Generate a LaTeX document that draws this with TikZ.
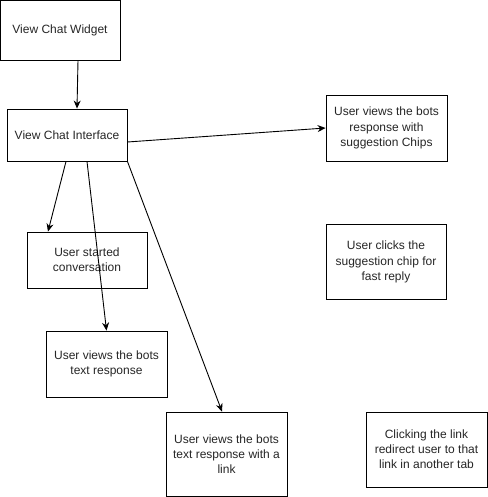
\documentclass[tikz,border=0pt]{standalone}
\usepackage{fontspec}
\setmainfont{Liberation Sans}
\usetikzlibrary{arrows.meta}
\begin{document}
\begin{tikzpicture}[x=1pt,y=-1pt,
  box/.style={draw=black, line width=0.9pt, fill=white, align=center,
    font=\fontsize{12}{15.2}\selectfont, text=black!85, inner sep=0pt},
  link/.style={draw=black, line width=0.9pt, -{Stealth[length=8pt,width=7pt]}}]
\useasboundingbox (0,0) rectangle (487,497);

\node[box, minimum width=120pt, minimum height=60pt] (widget) at (60,30) {View Chat Widget};
\node[box, minimum width=120pt, minimum height=52pt] (iface) at (67,135) {View Chat Interface};
\node[box, minimum width=121pt, minimum height=66pt] (chips) at (386.5,128)
  {User views the bots\\response with\\suggestion Chips};
\node[box, minimum width=120pt, minimum height=75pt] (clicks) at (386,262)
  {User clicks the\\suggestion chip for\\fast reply};
\node[box, minimum width=120pt, minimum height=56pt] (started) at (87,260)
  {User started\\conversation};
\node[box, minimum width=121pt, minimum height=66pt] (textresp) at (106.5,364)
  {User views the bots\\text response};
\node[box, minimum width=121pt, minimum height=84pt] (withlink) at (226.5,454)
  {User views the bots\\text response with a\\link};
\node[box, minimum width=121pt, minimum height=75pt] (newtab) at (426.5,449.5)
  {Clicking the link\\redirect user to that\\link in another tab};

\draw[link] ([xshift=18pt]widget.south) -- ([xshift=10pt]iface.north);
\draw[link] ([yshift=-7pt]iface.east) -- (chips.west);
\draw[link] ([xshift=-1pt]iface.south) -- ([xshift=-39pt]started.north);
\draw[link] ([xshift=20pt]iface.south) -- (textresp.north);
\draw[link] (iface.south east) -- ([xshift=-4.5pt]withlink.north);
\end{tikzpicture}
\end{document}
